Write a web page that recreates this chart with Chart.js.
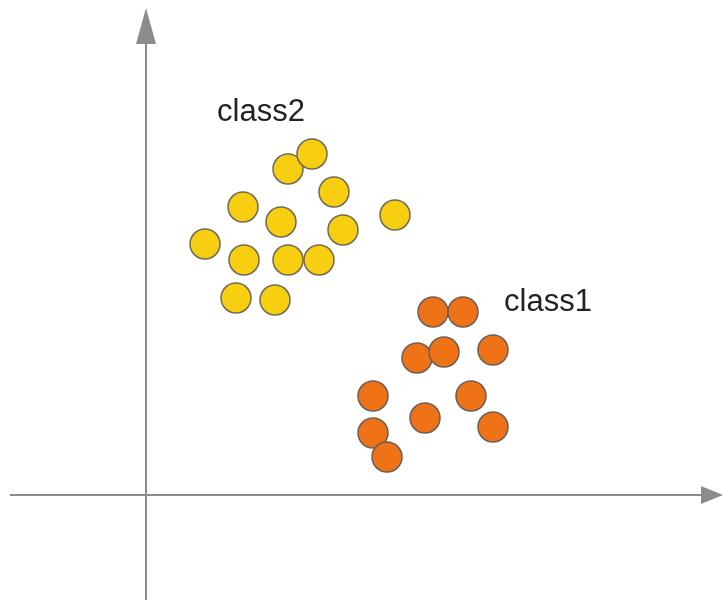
<!DOCTYPE html>
<html>
<head>
<meta charset="utf-8">
<script src="https://cdn.jsdelivr.net/npm/chart.js@4"></script>
<style>
  html, body { margin: 0; padding: 0; background: #fff; }
  #wrap { width: 723px; height: 603px; }
</style>
</head>
<body>
<div id="wrap"><canvas id="grafico" width="723" height="603"></canvas></div>
<script>
// Puntos de cada clase (unidades arbitrarias, origen en el cruce de ejes)
const class2X = [14.2, 16.6, 18.8, 9.7, 13.5, 19.7, 24.9, 5.9, 9.8, 14.2, 17.3, 9.0, 12.9];
const class2Y = [32.6, 34.1, 30.3, 28.8, 27.3, 26.5, 28.0, 25.1, 23.5, 23.5, 23.5, 19.7, 19.5];
const class1X = [28.7, 31.7, 27.1, 29.8, 34.7, 22.7, 32.5, 27.9, 34.7, 22.7, 24.1];
const class1Y = [18.3, 18.3, 13.7, 14.3, 14.5, 9.9, 9.9, 7.7, 6.8, 6.2, 3.8];
const etiquetas = ["class1", "class2"];
// posición de las etiquetas en unidades de datos
const etiquetaX = [40.2, 11.5];
const etiquetaY = [19.3, 38.3];

const puntos = (xs, ys) => xs.map((x, i) => ({ x: x, y: ys[i] }));

// Ejes con flechas, dibujados en el cero de cada escala
const ejes = {
    id: "ejes",
    beforeDatasetsDraw(chart) {
        const ctx = chart.ctx;
        const x0 = chart.scales.x.getPixelForValue(0);
        const y0 = chart.scales.y.getPixelForValue(0);
        const w = chart.width, h = chart.height;
        ctx.save();
        ctx.strokeStyle = "#8c8c8c";
        ctx.fillStyle = "#8c8c8c";
        ctx.lineWidth = 2;
        ctx.beginPath();
        ctx.moveTo(x0, 40); ctx.lineTo(x0, h - 3);
        ctx.moveTo(10, y0); ctx.lineTo(w - 18, y0);
        ctx.stroke();
        // flecha vertical
        ctx.beginPath();
        ctx.moveTo(x0, 8); ctx.lineTo(x0 - 10, 44); ctx.lineTo(x0 + 10, 44);
        ctx.closePath(); ctx.fill();
        // flecha horizontal
        ctx.beginPath();
        ctx.moveTo(w, y0); ctx.lineTo(w - 22, y0 - 9); ctx.lineTo(w - 22, y0 + 9);
        ctx.closePath(); ctx.fill();
        ctx.restore();
    },
    afterDatasetsDraw(chart) {
        const ctx = chart.ctx;
        ctx.save();
        ctx.fillStyle = "#222";
        ctx.font = "31px 'Liberation Sans', Arial, sans-serif";
        ctx.textAlign = "center";
        ctx.textBaseline = "middle";
        etiquetas.forEach((t, i) => {
            ctx.fillText(t, chart.scales.x.getPixelForValue(etiquetaX[i]),
                chart.scales.y.getPixelForValue(etiquetaY[i]));
        });
        ctx.restore();
    }
};

new Chart(document.getElementById("grafico"), {
    type: "scatter",
    data: {
        datasets: [{
            label: "class2",
            data: puntos(class2X, class2Y),
            backgroundColor: "#f7cf10",
            borderColor: "#6e6a55",
            borderWidth: 1.5,
            pointRadius: 15
        }, {
            label: "class1",
            data: puntos(class1X, class1Y),
            backgroundColor: "#ef7216",
            borderColor: "#6a5f58",
            borderWidth: 1.5,
            pointRadius: 15
        }]
    },
    options: {
        responsive: false,
        animation: false,
        layout: { padding: 0, autoPadding: false },
        plugins: { legend: { display: false }, tooltip: { enabled: false } },
        scales: {
            x: { display: false, min: -14.6, max: 57.7 },
            y: { display: false, min: -10.8, max: 49.5 }
        }
    },
    plugins: [ejes]
});
</script>
</body>
</html>
